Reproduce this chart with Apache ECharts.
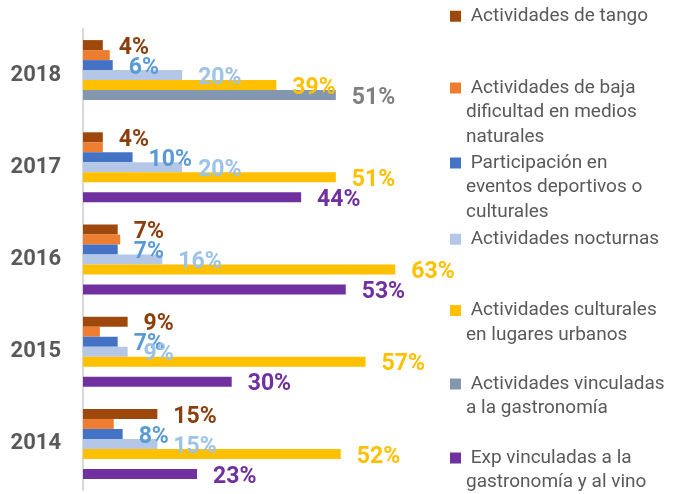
<!DOCTYPE html>
<html>
<head>
<meta charset="utf-8">
<script src="https://cdn.jsdelivr.net/npm/echarts@6/dist/echarts.min.js"></script>
<style>
  html, body { margin: 0; padding: 0; background: #fff; }
  #chart { width: 681px; height: 494px; }
</style>
</head>
<body>
<div id="chart"></div>
<script>
// datos
var years = ['2014', '2015', '2016', '2017', '2018'];
var tango = [15, 9, 7, 4, 4];
var bajaDificultad = [6.2, 3.4, 7.5, 4, 5.4];
var participacion = [8, 7, 7, 10, 6];
var nocturnas = [15, 9, 16, 20, 20];
var culturales = [52, 57, 63, 51, 39];
var gastronomia = [null, null, null, null, 51];
var vino = [23, 30, 53, 44, null];

var seriesNames = [
    'Actividades de tango',
    'Actividades de baja dificultad en medios naturales',
    'Participación en eventos deportivos o culturales',
    'Actividades nocturnas',
    'Actividades culturales en lugares urbanos',
    'Actividades vinculadas a la gastronomía',
    'Exp vinculadas a la gastronomía y al vino'
];
var legendText = [
    ' Actividades de tango',
    ' Actividades de baja\ndificultad en medios\nnaturales',
    ' Participación en\neventos deportivos o\nculturales',
    ' Actividades nocturnas',
    ' Actividades culturales\nen lugares urbanos',
    ' Actividades vinculadas\na la gastronomía',
    ' Exp vinculadas a la\ngastronomía y al vino'
];
var seriesData = [tango, bajaDificultad, participacion, nocturnas, culturales, gastronomia, vino];
var barColors = ['#9E480E', '#ED7D31', '#4472C4', '#B4C7E7', '#FFC000', '#8497B0', '#7030A0'];
var labelColors = ['#8B3F0E', null, '#5B9BD5', '#9DC3E6', '#FFC000', '#7F7F7F', '#7030A0'];

var legendMarkY = [13.5, 88, 163, 236.5, 310.5, 384, 458];
var LH = 24.5;

window.onload = function() {
    var myChart = echarts.init(document.getElementById('chart'));

    var series = seriesData.map(function(d, i) {
        return {
            name: seriesNames[i],
            type: 'bar',
            data: d,
            barWidth: 10,
            barGap: '0%',
            itemStyle: { color: barColors[i] },
            label: {
                show: labelColors[i] !== null,
                position: 'right',
                distance: 16,
                offset: [0, 3],
                color: labelColors[i],
                fontFamily: 'Roboto',
                fontWeight: 'bold',
                fontSize: 23,
                formatter: function(p) { return Math.round(p.value) + '%'; }
            }
        };
    });

    // una leyenda por serie; lineas vacias delante para que el marcador quede en la primera linea
    var legends = seriesNames.map(function(name, i) {
        var n = legendText[i].split('\n').length;
        var pre = new Array(n).join('\n');
        var top = n > 1 ? legendMarkY[i] - (2 * n - 1) * LH / 2 : legendMarkY[i] - 9.5;
        return {
            data: [name],
            orient: 'vertical',
            left: 450,
            top: top,
            padding: 0,
            icon: 'rect',
            itemWidth: 11,
            itemHeight: 11,
            formatter: function() { return pre + legendText[i]; },
            textStyle: {
                fontFamily: 'Roboto',
                fontSize: 19,
                color: '#595959',
                lineHeight: LH
            }
        };
    });

    var option = {
        animation: false,
        grid: { left: 83, right: 251, top: 29, bottom: 4 },
        legend: legends,
        xAxis: {
            type: 'value',
            min: 0,
            max: 70,
            show: false
        },
        yAxis: {
            type: 'category',
            data: years,
            axisLine: { show: true, lineStyle: { color: '#D9D9D9', width: 2 } },
            axisTick: { show: false },
            axisLabel: {
                margin: 22,
                color: '#595959',
                fontFamily: 'Roboto',
                fontWeight: 'bold',
                fontSize: 22
            },
            splitLine: { show: false }
        },
        series: series
    };

    myChart.setOption(option);
};
</script>
</body>
</html>
